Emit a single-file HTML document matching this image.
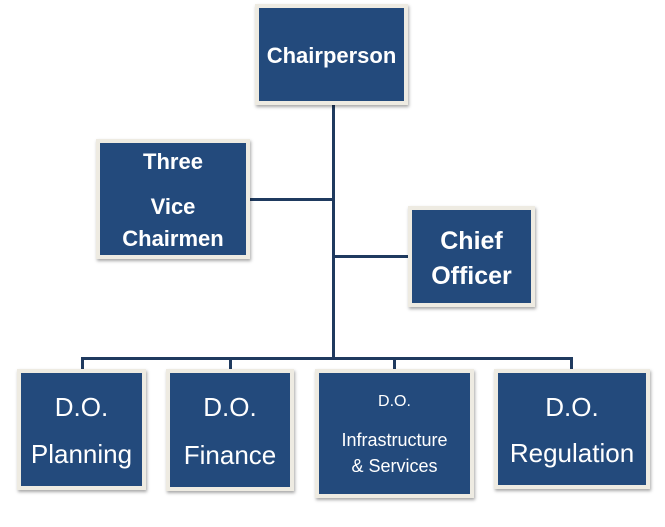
<!DOCTYPE html>
<html><head><style>
body{margin:0;width:665px;height:527px;background:#fff;position:relative;overflow:hidden;font-family:"Liberation Sans",sans-serif;}
.b{position:absolute;background:#234a7c;border:4px solid #eeebe2;box-shadow:1px 2px 3px rgba(0,0,0,.35);box-sizing:content-box;color:#fff;}
.t{position:absolute;left:0;right:0;text-align:center;color:#fff;white-space:nowrap;line-height:1;}
.l{position:absolute;background:#1f3a5f;}
</style></head><body>
<div class="l" style="left:332px;top:100px;width:3px;height:260px"></div>
<div class="l" style="left:248px;top:198px;width:85px;height:3px"></div>
<div class="l" style="left:333px;top:255px;width:80px;height:3px"></div>
<div class="l" style="left:81px;top:357px;width:492px;height:3px"></div>
<div class="l" style="left:81px;top:357px;width:3px;height:14px"></div>
<div class="l" style="left:229px;top:357px;width:3px;height:14px"></div>
<div class="l" style="left:393px;top:357px;width:3px;height:14px"></div>
<div class="l" style="left:570px;top:357px;width:3px;height:14px"></div>

<div class="b" style="left:255px;top:4px;width:145px;height:93px"><div class="t" style="top:37px;font-size:22px;font-weight:bold">Chairperson</div></div>
<div class="b" style="left:96px;top:139px;width:146px;height:112px">
<div class="t" style="top:8px;font-size:22px;font-weight:bold">Three</div>
<div class="t" style="top:53px;font-size:22px;font-weight:bold">Vice</div>
<div class="t" style="top:85px;font-size:22px;font-weight:bold">Chairmen</div></div>
<div class="b" style="left:408px;top:206px;width:119px;height:93px">
<div class="t" style="top:19px;font-size:25px;font-weight:bold">Chief</div>
<div class="t" style="top:54px;font-size:25px;font-weight:bold">Officer</div></div>

<div class="b" style="left:17px;top:369px;width:121px;height:113px">
<div class="t" style="top:21px;font-size:26px">D.O.</div>
<div class="t" style="top:68px;font-size:26px">Planning</div></div>
<div class="b" style="left:166px;top:369px;width:120px;height:114px">
<div class="t" style="top:21px;font-size:26px">D.O.</div>
<div class="t" style="top:69px;font-size:26px">Finance</div></div>
<div class="b" style="left:315px;top:369px;width:151px;height:121px">
<div class="t" style="top:21px;font-size:16px">D.O.</div>
<div class="t" style="top:58px;font-size:18px">Infrastructure</div>
<div class="t" style="top:84px;font-size:18px">&amp; Services</div></div>
<div class="b" style="left:494px;top:369px;width:148px;height:112px">
<div class="t" style="top:21px;font-size:26px">D.O.</div>
<div class="t" style="top:67px;font-size:26px">Regulation</div></div>
</body></html>
